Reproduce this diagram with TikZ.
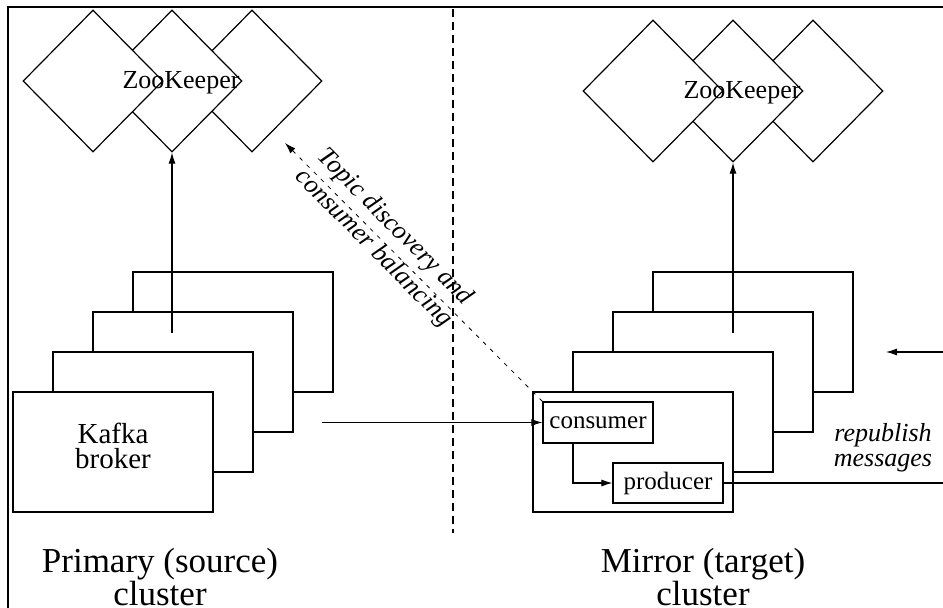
\documentclass[tikz,border=0pt]{standalone}
\usepackage{fontspec}
\setmainfont{Liberation Serif}
\usetikzlibrary{shapes.geometric,arrows.meta}
\begin{document}
\begin{tikzpicture}[x=1pt,y=-1pt,
  zk/.style={diamond, draw, fill=white, line width=1.2pt, minimum width=140pt, minimum height=142pt, inner sep=0pt},
  broker/.style={draw, fill=white, line width=1.2pt, minimum width=200pt, minimum height=120pt, inner sep=0pt},
  innerbox/.style={draw, fill=white, line width=1.2pt, minimum width=110pt, minimum height=41pt, inner sep=0pt},
  tip/.style={-{Latex[length=11pt,width=7pt]}},
  conn/.style={line width=1.1pt, tip},
  lbl/.style={inner sep=0pt, align=center},
  divider/.style={line width=1.1pt, dash pattern=on 8pt off 5pt},
  diag/.style={line width=0.8pt, dash pattern=on 4pt off 6pt, tip}
]
\useasboundingbox (0,0) rectangle (943,608);
\fill[white] (0,0) rectangle (943,608);
% frame
\draw[line width=2pt] (8,608) -- (8,7) -- (943,7);
% left zookeeper
\node[zk] (lz3) at (252,81) {};
\node[zk] (lz2) at (172,81) {};
\node[zk] (lz1) at (93,81) {};
\node[lbl, font=\fontsize{26}{26}\selectfont] (lzt) at (181,83) {ZooKeeper};
% right zookeeper
\node[zk] (rz3) at (813,91) {};
\node[zk] (rz2) at (733,91) {};
\node[zk] (rz1) at (653,91) {};
\node[lbl, font=\fontsize{26}{26}\selectfont] (rzt) at (742,93) {ZooKeeper};
% left brokers
\node[broker] (lb4) at (233,332) {};
\node[broker] (lb3) at (193,372) {};
\node[broker] (lb2) at (153,412) {};
\node[broker] (lb1) at (113,452) {};
\node[lbl, font=\fontsize{29}{25}\selectfont] (kb) at (113,446) {Kafka\\broker};
% right brokers
\node[broker] (rb4) at (753,332) {};
\node[broker] (rb3) at (713,372) {};
\node[broker] (rb2) at (673,412) {};
\node[broker] (rb1) at (633,452) {};
\node[innerbox, font=\fontsize{25}{25}\selectfont] (cons) at (598,422.5) {consumer};
\node[innerbox, minimum height=40pt, font=\fontsize{25}{25}\selectfont] (prod) at (668,483) {producer};
% divider
\draw[divider] (453,9) -- (453,533);
% connectors
\coordinate (lzs) at (172,333);
\coordinate (rzs) at (733,333);
\draw[conn] (lzs) -- (lz2.south);
\draw[conn] (rzs) -- (rz2.south);
\coordinate (src) at (322,422.5);
\draw[conn] (src) -- (cons.west);
\draw[conn] (cons.south -| 573,0) |- (prod.west);
\coordinate (outr) at (943,483);
\draw[line width=1.1pt] (prod.east) -- (outr);
\coordinate (inr) at (943,352);
\coordinate (inend) at (886,352);
\draw[conn] (inr) -- (inend);
\coordinate (dtop) at (285,143);
\draw[diag] (cons.north west) -- (dtop);
% labels
\node[lbl, rotate=-45.2, font=\itshape\fontsize{26}{30}\selectfont] (topic) at (384,238) {Topic discovery and\\consumer balancing};
\node[lbl, font=\itshape\fontsize{26}{25}\selectfont] (rep) at (883,448) {republish\\messages};
\node[lbl, font=\fontsize{35}{25}\selectfont] (prim) at (160,577) {Primary (source)\\cluster};
\node[lbl, font=\fontsize{35}{25}\selectfont] (mirr) at (703,577) {Mirror (target)\\cluster};
\end{tikzpicture}
\end{document}
